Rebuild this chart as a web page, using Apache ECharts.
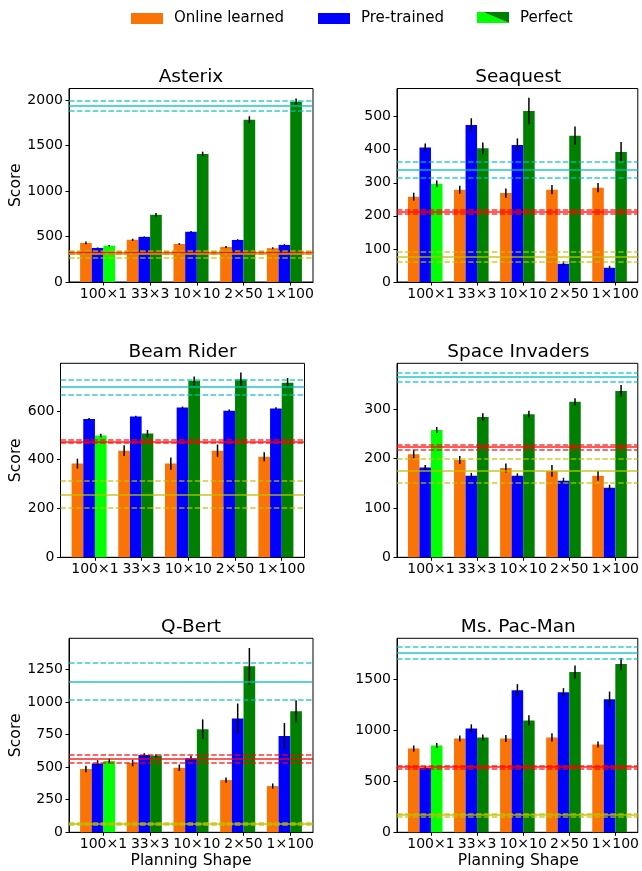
<!DOCTYPE html>
<html><head><meta charset="utf-8">
<script src="https://cdn.jsdelivr.net/npm/echarts@6/dist/echarts.min.js"></script>
<style>html,body{margin:0;padding:0;background:#fff}#c{width:642px;height:871px}</style>
</head><body><div id="c"></div>
<script>
// ---------------- data ----------------
const categories = ['100\u00d71', '33\u00d73', '10\u00d710', '2\u00d750', '1\u00d7100'];
const games = ['Asterix', 'Seaquest', 'Beam Rider', 'Space Invaders', 'Q-Bert', 'Ms. Pac-Man'];
const seriesNames = ['Online learned', 'Pre-trained', 'Perfect'];

// one row per game (same order as games), one value per planning shape
const onlineMean = [
  [430, 465, 418, 385, 372],
  [258, 279, 269, 279, 285],
  [384, 437, 384, 437, 412],
  [209, 197, 181, 175, 165],
  [486, 532, 496, 401, 355],
  [820, 919, 919, 929, 860]
];
const onlineErr = [
  [15, 12, 10, 12, 10],
  [12, 12, 14, 14, 14],
  [20, 22, 25, 25, 18],
  [9, 8, 9, 12, 10],
  [25, 25, 25, 20, 20],
  [30, 30, 35, 40, 30]
];
const pretrainedMean = [
  [375, 497, 553, 463, 408],
  [407, 475, 414, 55, 43],
  [567, 577, 614, 601, 610],
  [182, 165, 165, 155, 141],
  [529, 593, 568, 874, 739],
  [630, 1017, 1391, 1372, 1303]
];
const pretrainedErr = [
  [5, 5, 8, 8, 8],
  [12, 20, 20, 8, 6],
  [4, 3, 4, 5, 5],
  [5, 6, 5, 6, 6],
  [25, 15, 20, 115, 100],
  [15, 40, 60, 40, 75]
];
const perfectMean = [
  [400, 740, 1410, 1785, 1985],
  [297, 404, 517, 442, 393],
  [499, 507, 723, 729, 715],
  [258, 284, 290, 315, 337],
  [547, 588, 792, 1276, 930],
  [850, 929, 1096, 1569, 1648]
];
const perfectErr = [
  [8, 20, 25, 40, 35],
  [10, 18, 40, 28, 30],
  [7, 15, 18, 28, 20],
  [6, 8, 7, 7, 12],
  [18, 12, 75, 140, 85],
  [25, 30, 50, 65, 60]
];
// reference lines per game: [lower, mean, upper]
const cyanLines = [[1890, 1945, 2000], [314, 339, 364], [667, 697, 726], [355, 366, 374], [1015, 1160, 1304], [1697, 1759, 1818]];
const redLines = [[310, 320, 330], [207, 213, 218], [468, 475, 482], [218, 223, 228], [532, 562, 593], [624, 640, 656]];
const yellowLines = [[272, 308, 345], [60, 75, 90], [203, 256, 314], [152, 176, 199], [61, 69, 77], [157, 167, 177]];
const yMax = [2130, 585, 795, 393, 1490, 1900];
const yTicks = [
  [0, 500, 1000, 1500, 2000],
  [0, 100, 200, 300, 400, 500],
  [0, 200, 400, 600],
  [0, 100, 200, 300],
  [0, 250, 500, 750, 1000, 1250],
  [0, 500, 1000, 1500]
];

// ---------------- layout / style ----------------
const FONT = 'DejaVu Sans';
const ORANGE = '#f97306', BLUE = '#0000ff', GREEN = '#008000', LIME = '#00ff00';
const CYAN = '#00bfbf', RED = '#ff0000', OLIVE = '#bfbf00';
const BARW = 0.25;
const grids = [
  { left: 69, top: 88.5, width: 244, height: 193.5 },
  { left: 397, top: 88.5, width: 242.5, height: 193.5 },
  { left: 60.5, top: 363.3, width: 244, height: 194 },
  { left: 397, top: 363.3, width: 242.5, height: 194 },
  { left: 69, top: 638.3, width: 244, height: 194 },
  { left: 397, top: 638.3, width: 242.5, height: 194 }
];
const tickPos = categories.map((c, i) => i + BARW / 2);

const option = {
  animation: false,
  backgroundColor: '#fff',
  textStyle: { fontFamily: FONT },
  grid: grids.map(g => Object.assign({ show: true, borderColor: '#000', borderWidth: 1, backgroundColor: 'transparent' }, g)),
  xAxis: grids.map((g, gi) => ({
    type: 'value', gridIndex: gi, min: -0.6125, max: 4.6125,
    axisLine: { show: true, onZero: false, lineStyle: { color: '#000', width: 1 } },
    splitLine: { show: false },
    axisTick: { show: true, customValues: tickPos, length: 3.5, lineStyle: { color: '#000', width: 1 } },
    axisLabel: {
      customValues: tickPos, color: '#000', fontFamily: FONT, fontSize: 14, margin: 5,
      formatter: v => categories[Math.round(v - BARW / 2)]
    }
  })),
  yAxis: grids.map((g, gi) => ({
    type: 'value', gridIndex: gi, min: 0, max: yMax[gi],
    axisLine: { show: true, onZero: false, lineStyle: { color: '#000', width: 1 } },
    splitLine: { show: false },
    axisTick: { show: true, customValues: yTicks[gi], length: 3.5, lineStyle: { color: '#000', width: 1 } },
    axisLabel: { customValues: yTicks[gi], color: '#000', fontFamily: FONT, fontSize: 14, margin: 6,
      formatter: v => String(v) }
  })),
  legend: [
    { data: [seriesNames[0]], left: 131, top: 11, padding: 0 },
    { data: [seriesNames[1]], left: 318, top: 11, padding: 0 },
    { data: [{ name: seriesNames[2], itemStyle: { opacity: 0 } }], left: 477, top: 11, padding: 0 }
  ].map(l => Object.assign({
    itemWidth: 32, itemHeight: 11, icon: 'rect', selectedMode: false,
    textStyle: { fontFamily: FONT, fontSize: 15, color: '#000', padding: [0, 0, 0, 6] }
  }, l)),
  series: [],
  graphic: []
};

function errSeries(gi, means, errs, off, lines) {
  const s = {
    type: 'custom', xAxisIndex: gi, yAxisIndex: gi, z: 4, silent: true,
    data: means.map((v, i) => [i, v, errs[i]]),
    renderItem: (params, api) => {
      const x = api.value(0), v = api.value(1), e = api.value(2);
      const w = api.size([BARW, 0])[0];
      const p1 = api.coord([x, v - e]);
      const p2 = api.coord([x, v + e]);
      const dx = off * w;
      return { type: 'line', shape: { x1: p1[0] + dx, y1: p1[1], x2: p2[0] + dx, y2: p2[1] },
               style: { stroke: '#000', lineWidth: 1.5 } };
    }
  };
  if (lines) {
    const ml = [];
    const add = (arr, color) => {
      ml.push({ yAxis: arr[0], lineStyle: { color: color, width: 1.6, type: [5.5, 2.4], opacity: 0.8 } });
      ml.push({ yAxis: arr[2], lineStyle: { color: color, width: 1.6, type: [5.5, 2.4], opacity: 0.8 } });
      ml.push({ yAxis: arr[1], lineStyle: { color: color, width: 2, type: 'solid', opacity: 0.65 } });
    };
    add(cyanLines[gi], CYAN);
    add(redLines[gi], RED);
    add(yellowLines[gi], OLIVE);
    s.markLine = { silent: true, symbol: 'none', label: { show: false }, animation: false, data: ml };
  }
  return s;
}

grids.forEach((g, gi) => {
  const bar = (name, vals, color, first) => ({
    type: 'bar', name: name, xAxisIndex: gi, yAxisIndex: gi, barWidth: '25%', barGap: '0%',
    itemStyle: { color: color }, z: 2, silent: true,
    data: vals.map((v, i) => (i === 0 && first) ? { value: [i, v], itemStyle: { color: first } } : [i, v])
  });
  option.series.push(bar(seriesNames[0], onlineMean[gi], ORANGE));
  option.series.push(bar(seriesNames[1], pretrainedMean[gi], BLUE));
  option.series.push(bar(seriesNames[2], perfectMean[gi], GREEN, LIME));
  option.series.push(errSeries(gi, onlineMean[gi], onlineErr[gi], -1));
  option.series.push(errSeries(gi, pretrainedMean[gi], pretrainedErr[gi], 0));
  option.series.push(errSeries(gi, perfectMean[gi], perfectErr[gi], 1, true));

  // title
  option.graphic.push({ type: 'text', z: 10, x: g.left + g.width / 2, y: g.top - 11.5,
    style: { text: games[gi], font: '18.5px "DejaVu Sans"', fill: '#000', textAlign: 'center', textVerticalAlign: 'middle' } });
  // y label (left column)
  if (gi % 2 === 0) {
    option.graphic.push({ type: 'text', z: 10, x: 16, y: g.top + g.height / 2, rotation: Math.PI / 2,
      style: { text: 'Score', font: '15.6px "DejaVu Sans"', fill: '#000', textAlign: 'center', textVerticalAlign: 'middle' } });
  }
  // x label (bottom row)
  if (gi >= 4) {
    option.graphic.push({ type: 'text', z: 10, x: g.left + g.width / 2, y: 861,
      style: { text: 'Planning Shape', font: '15.6px "DejaVu Sans"', fill: '#000', textAlign: 'center', textVerticalAlign: 'middle' } });
  }
});

// "Perfect" legend patch: split lime / green
option.graphic.push({ type: 'polygon', z: 100, shape: { points: [[477, 12], [483, 12], [509, 23], [477, 23]] }, style: { fill: LIME } });
option.graphic.push({ type: 'polygon', z: 100, shape: { points: [[483, 12], [509, 12], [509, 23]] }, style: { fill: GREEN } });

const chart = echarts.init(document.getElementById('c'), null, { renderer: 'canvas' });
chart.setOption(option);
</script>
</body></html>
